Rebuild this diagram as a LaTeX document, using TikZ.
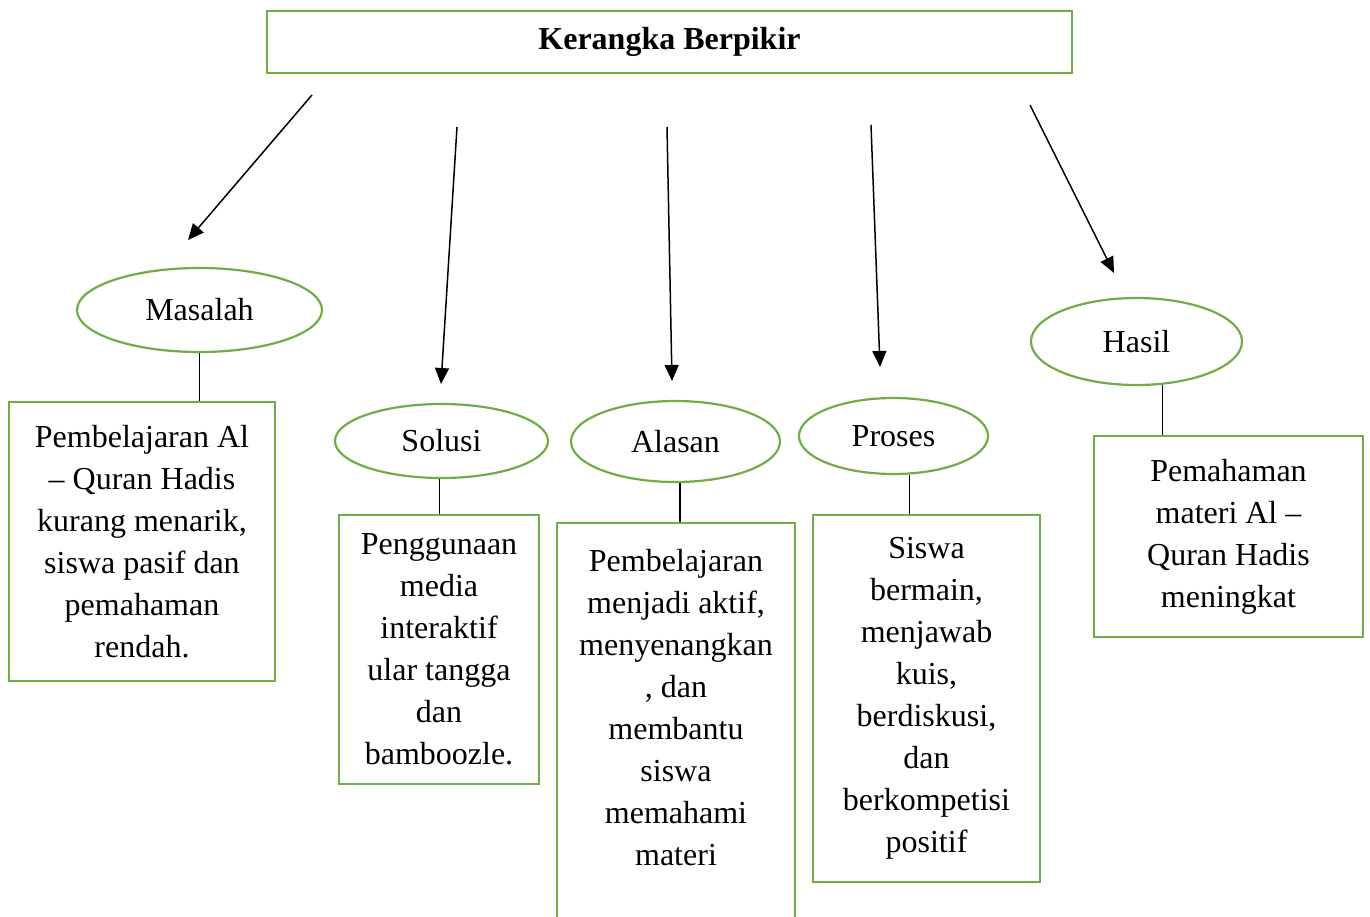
\documentclass[tikz,border=0pt]{standalone}
\usepackage{fontspec}
\setmainfont{Liberation Serif}
\usetikzlibrary{arrows.meta,shapes.geometric}
\definecolor{hijau}{RGB}{112,173,71}
\def\gw{1.1pt}
\tikzset{x=.5pt,y=-.5pt,
    every node/.style={font=\fontsize{16}{21}\selectfont,align=center,inner sep=0pt},
    judul/.style={draw=hijau,line width=1.4pt,minimum width=402.5pt,minimum height=31pt,font=\fontsize{16}{21}\selectfont\bfseries},
    elips/.style={ellipse,draw=hijau,line width=\gw},
    kotak/.style={rectangle,draw=hijau,line width=\gw},
    panah/.style={line width=.75pt,-{Triangle[length=8pt,width=7pt]}},
    garis/.style={line width=.6pt}}

\begin{document}
\begin{tikzpicture}
    \useasboundingbox (0,0) rectangle (1370,916);
    \node[judul] (judul) at (669.5,42) {Kerangka Berpikir};
    \foreach \n/\a/\b/\c/\d in {1/312/95/188/240,2/457/127/441/384,3/667/127/672/381,
                                4/871/125/880/367,5/1030/105/1114/273} {
      \coordinate (p\n) at (\a,\b);
      \coordinate (q\n) at (\c,\d);
      \draw[panah] (p\n) -- (q\n);
    }
    % lingkaran
    \node[elips,minimum width=122.5pt,minimum height=42pt] (masalah) at (199.5,310) {Masalah};
    \node[elips,minimum width=106.5pt,minimum height=37pt] (solusi) at (441.5,441) {Solusi};
    \node[elips,minimum width=104.5pt,minimum height=40.5pt] (alasan) at (675.5,441.5) {Alasan};
    \node[elips,minimum width=94.5pt,minimum height=38pt] (proses) at (893.5,436) {Proses};
    \node[elips,minimum width=105.5pt,minimum height=43.5pt] (hasil) at (1136.5,341.5) {Hasil};
    % kotak
    \node[kotak,minimum width=133pt,minimum height=139.5pt] (masalahbox) at (142,541.5)
      {Pembelajaran Al\\ -- Quran Hadis\\ kurang menarik,\\ siswa pasif dan\\ pemahaman\\ rendah.};
    \node[kotak,minimum width=100pt,minimum height=134.5pt] (solusibox) at (439,649.5)
      {Penggunaan\\ media\\ interaktif\\ ular tangga\\ dan\\ bamboozle.};
    \node[kotak,minimum width=119pt,minimum height=215pt,anchor=north] (alasanbox) at (676,522) {};
    \node (alasantext) at (676,708)
      {Pembelajaran\\ menjadi aktif,\\ menyenangkan\\ , dan\\ membantu\\ siswa\\ memahami\\ materi};
    \node[kotak,minimum width=113.5pt,minimum height=183.5pt] (prosesbox) at (926.5,698.5)
      {Siswa\\ bermain,\\ menjawab\\ kuis,\\ berdiskusi,\\ dan\\ berkompetisi\\ positif};
    \node[kotak,minimum width=134.5pt,minimum height=100.5pt] (hasilbox) at (1228.5,536.5)
      {Pemahaman\\ materi Al --\\ Quran Hadis\\ meningkat};
    % garis penghubung
    \draw[garis] (masalah.south) -- (masalah.south |- masalahbox.north);
    \draw[garis] ([xshift=-1pt]solusi.south) -- ([xshift=-1pt]solusi.south |- solusibox.north);
    \draw[garis] ([xshift=2.2pt]alasan.south) -- ([xshift=2.2pt]alasan.south |- alasanbox.north);
    \draw[garis] ([xshift=8pt]proses.south) -- ([xshift=8pt]proses.south |- prosesbox.north);
    \draw[garis] ([xshift=12.8pt,yshift=.6pt]hasil.south) -- ([xshift=12.8pt]hasil.south |- hasilbox.north);
\end{tikzpicture}
\end{document}
